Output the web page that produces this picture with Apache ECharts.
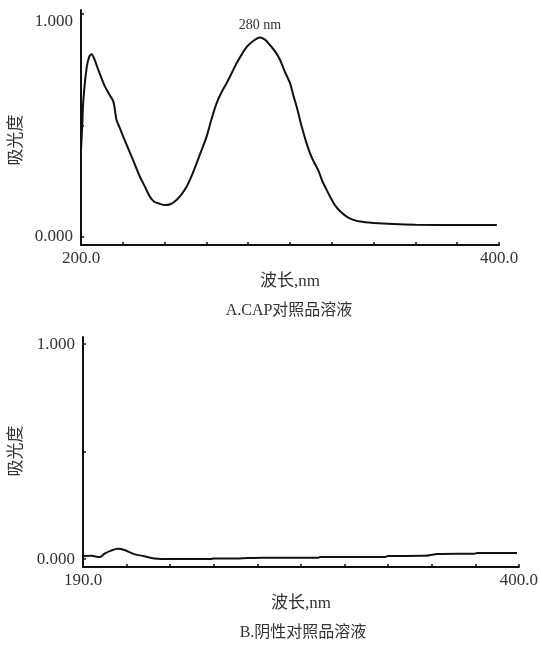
<!DOCTYPE html>
<html>
<head>
    <meta charset="utf-8">
    <title>UV spectra</title>
    <script src="https://cdn.jsdelivr.net/npm/echarts@6/dist/echarts.min.js"></script>
</head>
<body style="margin:0">
    <div id="main" style="width: 541px;height:646px;"></div>
    <script type="text/javascript">
    var myChart = echarts.init(document.getElementById('main'));

// A: CAP reference solution, [wavelength nm, absorbance]
var cap = [[200,0.39],[200.6,0.50],[201.1,0.61],[202.7,0.76],[204,0.81],[205.1,0.82],[206.3,0.80],[207.5,0.77],
    [209.5,0.72],[211.5,0.674],[213.5,0.64],[215.5,0.607],[217,0.525],[218.5,0.49],[220.2,0.45],[222.2,0.405],
    [224.2,0.36],[226.2,0.315],[228.2,0.27],[230.6,0.225],[233,0.18],[235,0.158],[237,0.151],[240.2,0.143],
    [243,0.148],[245.7,0.166],[248,0.19],[250.5,0.225],[253,0.275],[255.3,0.33],[257.7,0.39],[260.1,0.45],
    [262.5,0.53],[264.9,0.60],[267.3,0.65],[269.7,0.69],[272.1,0.735],[274.5,0.78],[277,0.82],[279.3,0.853],
    [282.4,0.879],[285.6,0.895],[288,0.885],[290.4,0.861],[293,0.83],[295.2,0.795],[297.6,0.74],[300,0.69],
    [301.6,0.635],[303.2,0.584],[305.6,0.495],[307.6,0.43],[309.6,0.375],[311.5,0.335],[313.5,0.30],[315.5,0.25],
    [317.6,0.21],[319.5,0.175],[321.5,0.143],[324,0.115],[327.1,0.091],[330,0.078],[333.5,0.069],[340,0.063],
    [349.4,0.058],[360,0.055],[380,0.054],[399,0.054]];
// B: negative control
var neg = [[190,0.014],[194,0.015],[198,0.009],[200.4,0.025],[203.5,0.039],[206.7,0.048],[210,0.042],
    [214.7,0.023],[219.5,0.013],[224.3,0.003],[232.2,0.0],[251.4,0.0],[253,0.002],[265.7,0.003],[267.4,0.004],
    [276.9,0.006],[303.4,0.006],[304.2,0.009],[335.3,0.009],[336.9,0.014],[354.4,0.015],[360.8,0.023],
    [378.4,0.025],[380,0.028],[399.1,0.028]];

var peak = [285.6, 0.895];
var peakText = '280 nm';
var yLabels = [0, 1];
var yTicks = [0, 0.5, 1];
var xLabelsA = [200, 400];
var xTicksA = [200, 220, 240, 260, 280, 300, 320, 340, 360, 380, 400];
var xLabelsB = [190, 400];
var xTicksB = [190, 211, 232, 253, 274, 295, 316, 337, 358, 379, 400];

var font = "'Liberation Serif', 'Noto Sans CJK SC', serif";
var txt = '#333';

function xAxisOf(idx, min, max, labels, ticks) {
    return {
        gridIndex: idx, type: 'value', min: min, max: max,
        name: '波长,nm', nameLocation: 'middle', nameGap: 28,
        nameTextStyle: { fontFamily: font, fontSize: 17, color: txt },
        axisLine: { onZero: false, lineStyle: { color: '#111', width: 2 } },
        axisTick: { inside: true, length: 3, customValues: ticks, lineStyle: { color: '#111', width: 1.5 } },
        axisLabel: { customValues: labels, margin: 5, fontFamily: font, fontSize: 17, color: txt,
            formatter: function (v) { return v.toFixed(1); } },
        splitLine: { show: false }
    };
}
function yAxisOf(idx, min, max, shiftTop) {
    return {
        gridIndex: idx, type: 'value', min: min, max: max,
        axisLine: { show: true, lineStyle: { color: '#111', width: 2 } },
        axisTick: { show: true, inside: true, length: 3, customValues: yTicks, lineStyle: { color: '#111', width: 1.5 } },
        axisLabel: { customValues: yLabels, margin: 8, fontFamily: font, fontSize: 17, color: txt,
            formatter: function (v) {
                return (shiftTop && v === 1 ? '{t|' : '{n|') + v.toFixed(3) + '}';
            },
            rich: {
                t: { fontFamily: font, fontSize: 17, color: txt, padding: [16, 0, 0, 0] },
                n: { fontFamily: font, fontSize: 17, color: txt }
            } },
        splitLine: { show: false }
    };
}

option = {
    animation: false,
    backgroundColor: '#fff',
    grid: [
        { left: 81, top: 10, width: 418, height: 235 },
        { left: 83, top: 337, width: 439, height: 230 }
    ],
    xAxis: [xAxisOf(0, 200, 400, xLabelsA, xTicksA), xAxisOf(1, 190, 400, xLabelsB, xTicksB)],
    yAxis: [yAxisOf(0, -0.036, 1.018, true), yAxisOf(1, -0.037, 1.033, false)],
    graphic: [
        { type: 'text', x: 17, y: 140, rotation: Math.PI / 2,
          style: { text: '吸光度', font: '17px ' + font, fill: txt, align: 'center', verticalAlign: 'middle' } },
        { type: 'text', x: 17, y: 451, rotation: Math.PI / 2,
          style: { text: '吸光度', font: '17px ' + font, fill: txt, align: 'center', verticalAlign: 'middle' } },
        { type: 'text', x: 289, y: 311,
          style: { text: 'A.CAP对照品溶液', font: '16px ' + font, fill: txt, align: 'center', verticalAlign: 'middle' } },
        { type: 'text', x: 303, y: 633,
          style: { text: 'B.阴性对照品溶液', font: '16px ' + font, fill: txt, align: 'center', verticalAlign: 'middle' } }
    ],
    series: [
        {
            type: 'line', xAxisIndex: 0, yAxisIndex: 0, data: cap,
            showSymbol: false, smooth: 0.3,
            lineStyle: { color: '#111', width: 2 },
            markPoint: {
                symbol: 'circle', symbolSize: 0,
                label: { show: true, position: 'top', distance: 5, formatter: peakText,
                    fontFamily: font, fontSize: 14, color: txt },
                data: [{ coord: peak }]
            }
        },
        {
            type: 'line', xAxisIndex: 1, yAxisIndex: 1, data: neg,
            showSymbol: false, smooth: 0.3,
            lineStyle: { color: '#111', width: 2 }
        }
    ]
};

        myChart.setOption(option);
    </script>
</body>
</html>
